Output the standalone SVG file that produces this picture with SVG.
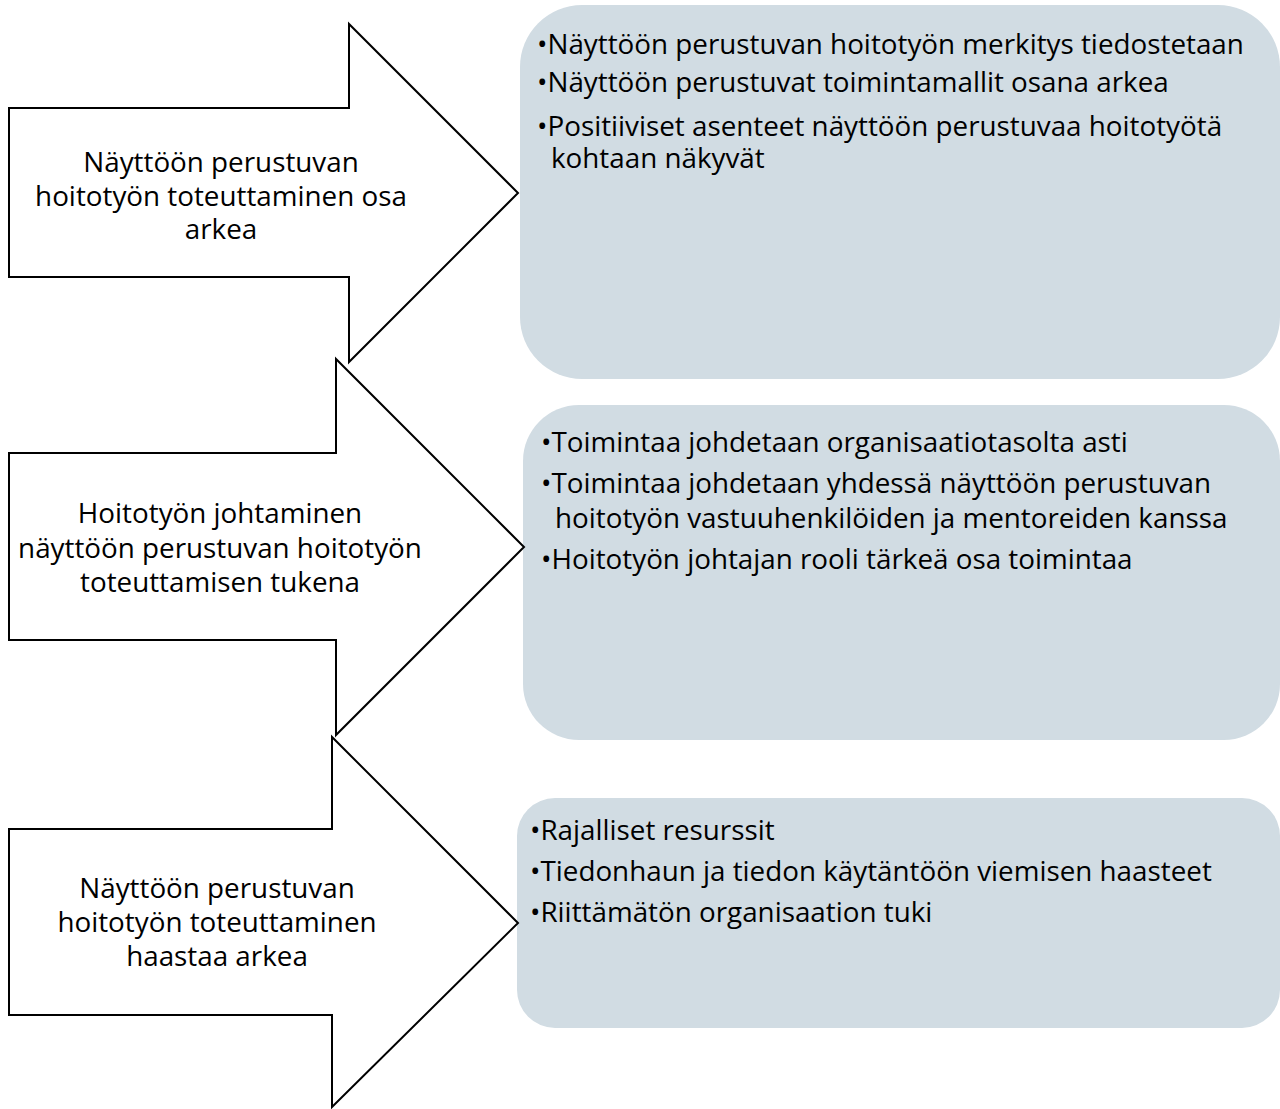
<svg xmlns="http://www.w3.org/2000/svg" width="1280" height="1109" viewBox="0 0 1280 1109">
<style>
.arrow{fill:#ffffff;stroke:#000000;stroke-width:2;stroke-linejoin:miter}
.box{fill:#d1dce3}
.lt{font-family:"Open Sans","Noto Sans",sans-serif;font-size:27.8px;fill:#000;text-anchor:middle}
.rt{font-family:"Open Sans","Noto Sans",sans-serif;font-size:27.8px;fill:#000}
</style>
<rect width="1280" height="1109" fill="#ffffff"/>
<g id="box1">
<rect class="box" x="520" y="5" width="760" height="374" rx="62" ry="62"/>
<text class="rt" x="537" y="54">•Näyttöön perustuvan hoitotyön merkitys tiedostetaan</text>
<text class="rt" x="537" y="92">•Näyttöön perustuvat toimintamallit osana arkea</text>
<text class="rt" x="537" y="136">•Positiiviset asenteet näyttöön perustuvaa hoitotyötä</text>
<text class="rt" x="551" y="168">kohtaan näkyvät</text>
</g>
<g id="box2">
<rect class="box" x="523" y="405" width="757" height="335" rx="56" ry="56"/>
<text class="rt" x="541" y="452">•Toimintaa johdetaan organisaatiotasolta asti</text>
<text class="rt" x="541" y="493">•Toimintaa johdetaan yhdessä näyttöön perustuvan</text>
<text class="rt" x="555" y="528">hoitotyön vastuuhenkilöiden ja mentoreiden kanssa</text>
<text class="rt" x="541" y="569">•Hoitotyön johtajan rooli tärkeä osa toimintaa</text>
</g>
<g id="box3">
<rect class="box" x="517" y="798" width="763" height="230" rx="38" ry="38"/>
<text class="rt" x="530" y="840">•Rajalliset resurssit</text>
<text class="rt" x="530" y="881">•Tiedonhaun ja tiedon käytäntöön viemisen haasteet</text>
<text class="rt" x="530" y="922">•Riittämätön organisaation tuki</text>
</g>
<g id="arrow1">
<polygon class="arrow" points="9,108 349,108 349,24 518,193 349,362 349,277 9,277"/>
<text class="lt" x="221" y="172">Näyttöön perustuvan</text>
<text class="lt" x="221" y="206">hoitotyön toteuttaminen osa</text>
<text class="lt" x="221" y="239">arkea</text>
</g>
<g id="arrow2">
<polygon class="arrow" points="9,453 336,453 336,359 524,547 336,735 336,640 9,640"/>
<text class="lt" x="220" y="523">Hoitotyön johtaminen</text>
<text class="lt" x="220" y="558">näyttöön perustuvan hoitotyön</text>
<text class="lt" x="220" y="592">toteuttamisen tukena</text>
</g>
<g id="arrow3">
<polygon class="arrow" points="9,829 332,829 332,737 518,923 332,1107 332,1015 9,1015"/>
<text class="lt" x="217" y="898">Näyttöön perustuvan</text>
<text class="lt" x="217" y="932">hoitotyön toteuttaminen</text>
<text class="lt" x="217" y="966">haastaa arkea</text>
</g>
<g id="connectors"></g>
</svg>
